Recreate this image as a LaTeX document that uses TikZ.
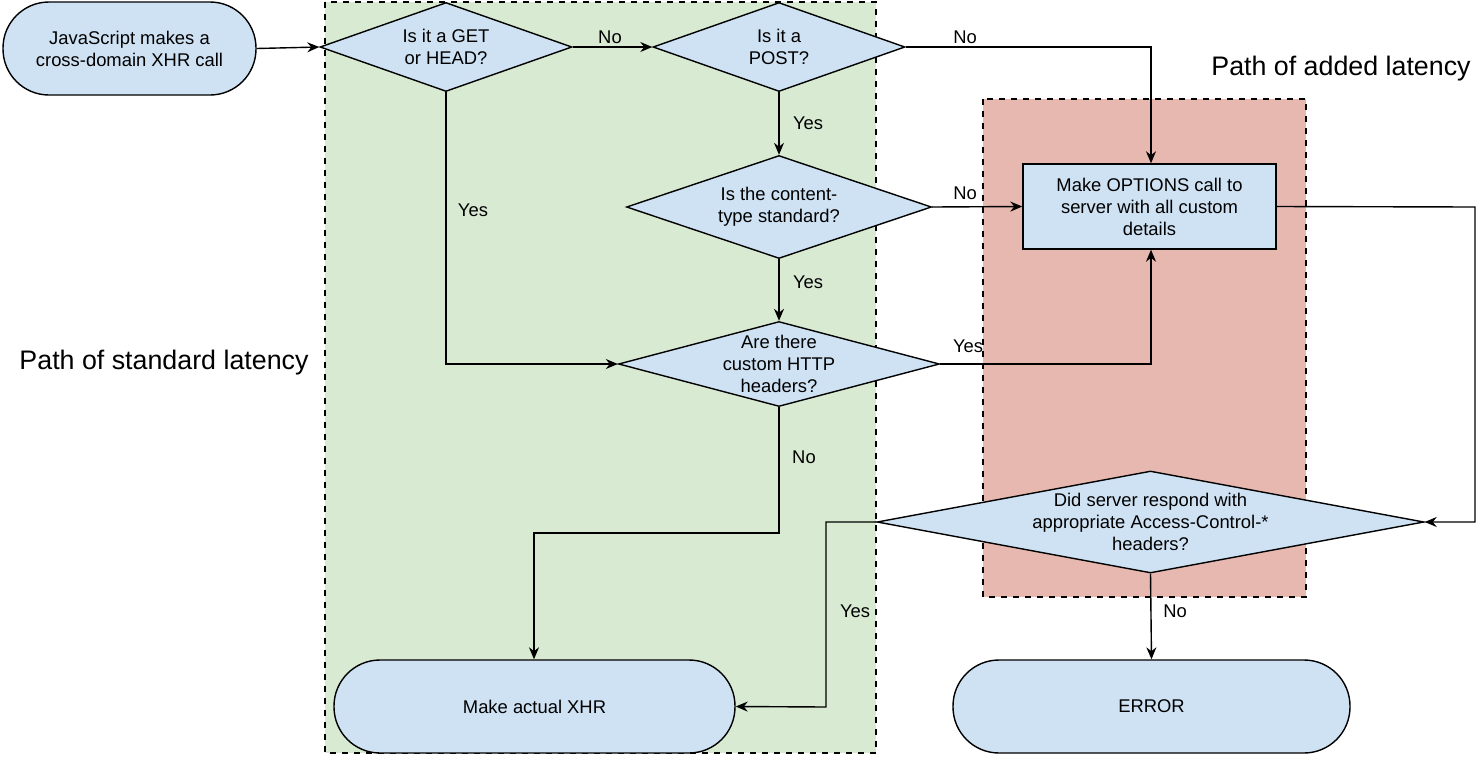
\documentclass[tikz,border=0pt]{standalone}
\usepackage{fontspec}
\setmainfont{Liberation Sans}
\usetikzlibrary{shapes.geometric,arrows.meta}
\definecolor{nodeblue}{HTML}{CFE2F3}
\definecolor{greenbg}{HTML}{D9EAD3}
\definecolor{redbg}{HTML}{E6B8AF}
\begin{document}
\begin{tikzpicture}[x=0.5pt,y=-0.5pt,
  every node/.style={font=\fontsize{9.2}{11}\selectfont},
  box/.style={draw,fill=nodeblue,line width=0.7pt,align=center,inner sep=0pt},
  term/.style={box,rounded corners=23pt},
  dia/.style={draw,fill=nodeblue,line width=0.7pt,diamond,inner sep=0pt,
     label={[align=center,font=\fontsize{9.2}{11}\selectfont]center:#1}},
  lbl/.style={font=\fontsize{9.2}{11}\selectfont},
  conn/.style={line width=0.7pt,-{Stealth[length=6pt,width=5pt]}},
  region/.style={draw,dashed,line width=0.7pt}]
\useasboundingbox (0,0) rectangle (1478,756);
\fill[greenbg] (325,2) rectangle (876,753);
\draw[region] (325,2) rectangle (876,753);
\fill[redbg] (983,99) rectangle (1306,597);
\draw[region] (983,99) rectangle (1306,597);
\node[font=\fontsize{13.4}{16}\selectfont] (pa) at (1341,69) {Path of added latency};
\node[font=\fontsize{13.4}{16}\selectfont] (ps) at (164,363) {Path of standard latency};
\node[term,minimum width=126.5pt,minimum height=46.5pt] (start) at (129.5,48.5) {JavaScript makes a\\cross-domain XHR call};
\node[dia={Is it a GET\\or HEAD?},minimum width=126pt,minimum height=44.5pt] (d1) at (446,47) {};
\node[dia={Is it a\\POST?},minimum width=126pt,minimum height=44.5pt] (d2) at (779,47) {};
\node[dia={Is the content-\\type standard?},minimum width=152.5pt,minimum height=51.5pt] (d3) at (779,207) {};
\node[dia={Are there\\custom HTTP\\headers?},minimum width=160.5pt,minimum height=42.5pt] (d4) at (779,364) {};
\node[box,minimum width=126.5pt,minimum height=42.5pt] (opt) at (1149.5,206.5) {Make OPTIONS call to\\server with all custom\\details};
\node[dia={Did server respond with\\appropriate Access-Control-*\\headers?},minimum width=273.5pt,minimum height=51pt] (d5) at (1150.5,522) {};
\node[term,minimum width=200.5pt,minimum height=46.5pt] (xhr) at (534.5,706.5) {Make actual XHR};
\node[term,minimum width=198.5pt,minimum height=46.5pt] (err) at (1151.5,706.5) {ERROR};
\coordinate (c1) at (1151,47);
\coordinate (c2) at (446,364);
\coordinate (c3) at (1151,364);
\coordinate (c4) at (1475,207);
\coordinate (c5) at (1475,522);
\coordinate (c6) at (779,533);
\coordinate (c7) at (534,533);
\coordinate (c8) at (826,522);
\coordinate (c9) at (826,707);
\draw[conn] (start.east) -- (d1.west);
\draw[conn] (d1.east) -- (d2.west);
\draw[conn] (d2.east) -- (c1) -- (opt.north -| c1);
\draw[conn] (d2.south) -- (d3.north);
\draw[conn] (d3.east) -- (opt.west);
\draw[conn] (d3.south) -- (d4.north);
\draw[conn] (d1.south) -- (c2) -- (d4.west);
\draw[conn] (d4.east) -- (c3) -- (opt.south -| c3);
\draw[conn] (opt.east) -- (c4) -- (c5) -- (d5.east);
\draw[conn] (d4.south) -- (c6) -- (c7) -- (xhr.north -| c7);
\draw[conn] (d5.west) -- (c8) -- (c9) -- (xhr.east);
\draw[conn] (d5.south) -- (err.north);
\node[lbl] (l1) at (610,37) {No};
\node[lbl] (l2) at (965,37) {No};
\node[lbl] (l3) at (808,123) {Yes};
\node[lbl] (l4) at (965,193) {No};
\node[lbl] (l5) at (808,282) {Yes};
\node[lbl] (l6) at (473,210) {Yes};
\node[lbl] (l7) at (968,346) {Yes};
\node[lbl] (l8) at (804,457) {No};
\node[lbl] (l9) at (855,611) {Yes};
\node[lbl] (l10) at (1175,611) {No};
\end{tikzpicture}
\end{document}
